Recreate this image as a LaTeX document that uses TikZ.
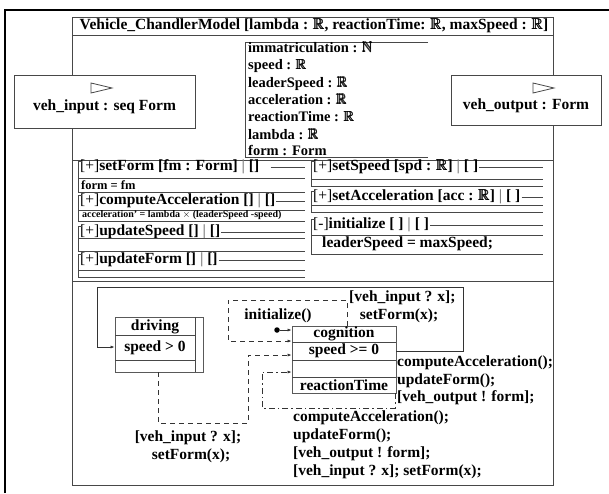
\documentclass[tikz,border=0pt]{standalone}
\usepackage{fontspec}
\usepackage{amsmath}
\usepackage{amssymb}
\setmainfont{Liberation Serif}
\usetikzlibrary{arrows.meta}
\newcommand{\RRR}{\ensuremath{\pmb{\mathbb{R}}}}
\newcommand{\NNN}{\ensuremath{\pmb{\mathbb{N}}}}
% #1 name, #2 x0, #3 x1, #4 header y, #5 header text, #6 body top, #7 body bottom, #8 gap
\newcommand{\opbox}[8]{%
  \node[t15,anchor=west] (#1) at (#2+2,#4) {#5};
  \draw[ln] (#2,#7) -- (#2,#4-6) -- (#2+4,#4-6);
  \draw[ln] ([xshift=#8pt]#1.east) -- (#3,#4);
  \draw[ln] (#2,#6) -- (#3,#6);
  \draw[ln] (#2,#7) -- (#3,#7);
}
\begin{document}
\begin{tikzpicture}[x=1pt,y=-1pt,
  ln/.style={draw=black!72,line width=0.8pt},
  t15/.style={inner sep=0pt,font=\fontsize{15.5}{17}\selectfont\bfseries},
  t14/.style={inner sep=0pt,font=\fontsize{14.5}{16}\selectfont\bfseries},
  tsm/.style={inner sep=0pt,font=\fontsize{12.5}{14}\selectfont\bfseries},
  txs/.style={inner sep=0pt,font=\fontsize{10}{11}\selectfont\bfseries},
  portbox/.style={draw=black!72,line width=0.8pt,fill=white,inner sep=0pt},
  statebox/.style={draw=black!65,line width=0.8pt,inner sep=0pt},
  tr/.style={draw=black!80,line width=0.7pt},
  arr/.style={-{Latex[length=4pt,width=3pt]}},
  dsh/.style={dash pattern=on 5pt off 4pt},
  dshdot/.style={dash pattern=on 6pt off 3pt on 1.5pt off 3pt},
]
\useasboundingbox (0,0) rectangle (609,493);
% outer frame
\draw[line width=1.8pt] (5,493) -- (5,10) -- (609,10);
% main box
\draw[ln] (72,17) rectangle (553,485);
\draw[ln] (72,35) -- (553,35);
\draw[ln] (72,160.5) -- (553,160.5);
\draw[ln] (72,281) -- (553,281);
\node[t15] (title) at (314,26) {Vehicle\_ChandlerModel [lambda : \RRR, reactionTime: \RRR, maxSpeed : \RRR]};
% attributes
\draw[ln] (428,42) -- (245,42) -- (245,157) -- (428,157);
\node[t14,anchor=base west] (a1) at (248,52) {immatriculation : \NNN};
\node[t14,anchor=base west] (a2) at (248,69.5) {speed : \RRR};
\node[t14,anchor=base west] (a3) at (248,87) {leaderSpeed : \RRR};
\node[t14,anchor=base west] (a4) at (248,104) {acceleration : \RRR};
\node[t14,anchor=base west] (a5) at (248,121.5) {reactionTime : \RRR};
\node[t14,anchor=base west] (a6) at (248,139) {lambda : \RRR};
\node[t14,anchor=base west] (a7) at (248,155) {form : Form};
% ports
\node[portbox,minimum width=181pt,minimum height=53pt] (vin) at (104.5,101.5) {};
\draw[ln] (91,83) -- (112,88) -- (91,93) -- cycle;
\node[t15] (vinl) at (104.5,107) {veh\_input : seq Form};
\node[portbox,minimum width=150pt,minimum height=50pt] (vout) at (526,100) {};
\draw[ln] (533,83) -- (554,88) -- (533,93) -- cycle;
\node[t15] (voutl) at (526,106) {veh\_output : Form};
% operations
\opbox{opA}{78}{305}{167}{{\mdseries[+]}setForm [fm : Form] {\color{gray}|} []}{178}{192}{11}
\node[tsm,anchor=west] (opAb) at (81,185.5) {form = fm};
\opbox{opB}{78}{305}{201}{{\mdseries[+]}computeAcceleration [] {\color{gray}|} []}{210}{221}{1}
\node[txs,anchor=west] (opBb) at (82,215.5) {acceleration' = lambda $\times$ (leaderSpeed -speed)};
\opbox{opC}{78}{305}{232}{{\mdseries[+]}updateSpeed [] {\color{gray}|} []}{238}{251}{1}
\opbox{opD}{78}{305}{260}{{\mdseries[+]}updateForm [] {\color{gray}|} []}{270}{277}{1}
\opbox{opE}{311}{543}{167}{{\mdseries[+]}setSpeed [spd : \RRR] {\color{gray}|} [ ]}{179}{186}{1}
\opbox{opF}{311}{543}{197}{{\mdseries[+]}setAcceleration [acc : \RRR] {\color{gray}|} [ ]}{205}{212}{1}
\opbox{opG}{311}{543}{225}{{\mdseries[-]}initialize [ ] {\color{gray}|} [ ]}{235}{254}{1}
\node[t15,anchor=west] (opGb) at (322,243.5) {leaderSpeed = maxSpeed;};
% states
\node[statebox,minimum width=88pt,minimum height=55pt] (drv) at (159,344.5) {};
\draw[ln] (195,317) -- (195,372);
\draw[ln] (115,335) -- (195,335);
\draw[ln] (115,360) -- (195,360);
\node[t15] (drvn) at (155,326.5) {driving};
\node[t15] (drvi) at (155,348) {speed > 0};
\node[statebox,minimum width=104pt,minimum height=67pt] (cog) at (344,359.5) {};
\draw[ln] (292,342) -- (396,342);
\draw[ln] (292,360) -- (396,360);
\draw[ln] (292,377) -- (396,377);
\node[t15] (cogn) at (344,334) {cognition};
\node[t15] (cogi) at (344,351) {speed >= 0};
\node[t15] (cogt) at (344,385) {reactionTime};
% transitions
\draw[tr,arr] (cog.east |- 0,351) -- (463,351) -- (463,287) -- (97,287) -- (97,347) -- (drv.west |- 0,347);
\node[t15,anchor=west] (l1a) at (349,298) {[veh\_input ? x];};
\node[t15] (l1b) at (399,316) {setForm(x);};
\draw[tr,dsh,arr] (347,326) -- (347,300) -- (228,300) -- (228,341) -- (cog.west |- 0,341);
\node[t15] (linit) at (278,316) {initialize()};
\node[circle,fill=black,inner sep=0pt,minimum size=5.5pt] (init) at (277,330) {};
\draw[tr,arr] (init) -- (cog.west |- init);
\draw[tr,dsh,arr] (drv.south -| 158,0) -- (158,423) -- (248,423) -- (248,355) -- (cog.west |- 0,355);
\node[t15] (l2a) at (188,438) {[veh\_input ? x];};
\node[t15] (l2b) at (191,456) {setForm(x);};
\draw[tr,dshdot,arr] (cog.south -| 395,0) -- (395,408) -- (262,408) -- (262,372) -- (cog.west |- 0,372);
\node[t15,anchor=west] (l3a) at (397,363) {computeAcceleration();};
\node[t15,anchor=west] (l3b) at (397,380.5) {updateForm();};
\node[t15,anchor=west] (l3c) at (397,398) {[veh\_output ! form];};
\node[t15,anchor=west] (l4a) at (293,418) {computeAcceleration();};
\node[t15,anchor=west] (l4b) at (293,436) {updateForm();};
\node[t15,anchor=west] (l4c) at (293,454) {[veh\_output ! form];};
\node[t15,anchor=west] (l4d) at (293,472) {[veh\_input ? x]; setForm(x);};
\end{tikzpicture}
\end{document}
